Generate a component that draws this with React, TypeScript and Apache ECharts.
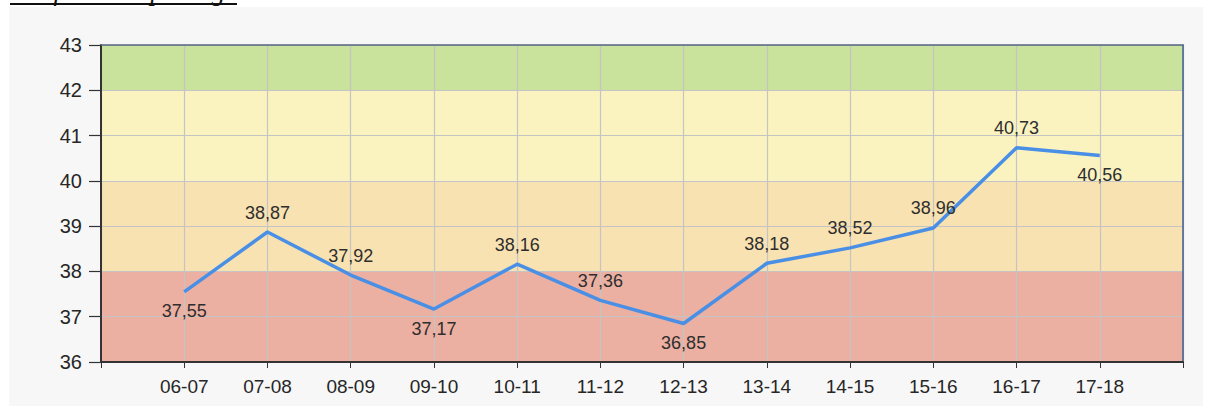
import React, { useEffect, useRef } from "react";
import * as echarts from "echarts";

const categories = ["06-07", "07-08", "08-09", "09-10", "10-11", "11-12", "12-13", "13-14", "14-15", "15-16", "16-17", "17-18"];
const values = [37.55, 38.87, 37.92, 37.17, 38.16, 37.36, 36.85, 38.18, 38.52, 38.96, 40.73, 40.56];
const labelSides = ["bottom", "top", "top", "bottom", "top", "top", "bottom", "top", "top", "top", "top", "bottom"];
const bandLimits = [36, 38, 40, 42, 43];
const bandColors = ["#ebb0a1", "#f9e2b1", "#faf3c0", "#c9e29c"];
const yMin = 36;
const yMax = 43;
const titleText = "Grafiek toetspeiling";

export default function App() {
  const ref = useRef<HTMLDivElement>(null);
  useEffect(() => {
    if (!ref.current) return;
    const chart = echarts.init(ref.current, null, { renderer: "svg" });
    const fmt = (v: number) => v.toFixed(2).replace(".", ",");
    const bands = bandColors.map((c, i) => [
      { yAxis: bandLimits[i], xAxis: 0, itemStyle: { color: c } },
      { yAxis: bandLimits[i + 1], xAxis: categories.length + 1 },
    ]);
    chart.setOption({
      animation: false,
      backgroundColor: "#ffffff",
      textStyle: { fontFamily: "'Liberation Sans', Arial, sans-serif" },
      graphic: [
        { type: "rect", z: -10, shape: { x: 9, y: 7, width: 1194, height: 399 }, style: { fill: "#f7f7f7" } },
        {
          type: "text",
          x: 10,
          y: -23,
          style: {
            text: titleText,
            fontSize: 27,
            fontStyle: "italic",
            fontFamily: "'Liberation Serif', serif",
            fill: "#111",
          },
        },
        { type: "rect", shape: { x: 10, y: 3, width: 227, height: 2 }, style: { fill: "#111" } },
      ],
      grid: { left: 101, top: 45, width: 1082, height: 317, containLabel: false },
      xAxis: [
        {
          type: "value",
          min: 0,
          max: categories.length + 1,
          interval: 1,
          z: 3,
          axisLine: { show: true, onZero: false, lineStyle: { color: "#333", width: 2 } },
          axisTick: { show: true, length: 6, lineStyle: { color: "#333" } },
          axisLabel: {
            fontSize: 19,
            color: "#262626",
            margin: 15,
            formatter: (v: number) => (v >= 1 && v <= categories.length ? categories[v - 1] : ""),
          },
          splitLine: { show: true, lineStyle: { color: "#c4c4c4", width: 1.2 } },
        },
        {
          type: "value",
          position: "top",
          min: 0,
          max: categories.length + 1,
          z: 3,
          axisLine: { show: true, onZero: false, lineStyle: { color: "#56677e", width: 1.5 } },
          axisTick: { show: false },
          axisLabel: { show: false },
          splitLine: { show: false },
        },
      ],
      yAxis: [
        {
          type: "value",
          min: yMin,
          max: yMax,
          interval: 1,
          z: 3,
          axisLine: { show: true, onZero: false, lineStyle: { color: "#333", width: 2 } },
          axisTick: { show: true, length: 12, lineStyle: { color: "#333", width: 1.2 } },
          axisLabel: { fontSize: 20, color: "#262626", margin: 19 },
          splitLine: { show: true, lineStyle: { color: "#c4c4c4", width: 1.2 } },
        },
        {
          type: "value",
          position: "right",
          min: yMin,
          max: yMax,
          z: 3,
          axisLine: { show: true, onZero: false, lineStyle: { color: "#3f5f92", width: 1.5 } },
          axisTick: { show: false },
          axisLabel: { show: false },
          splitLine: { show: false },
        },
      ],
      series: [
        {
          type: "line",
          z: 1,
          data: [],
          silent: true,
          markArea: { silent: true, data: bands },
        },
        {
          type: "line",
          z: 5,
          symbol: "circle",
          symbolSize: 1,
          showSymbol: true,
          itemStyle: { color: "rgba(0,0,0,0)" },
          lineStyle: { color: "#4a8fe6", width: 3.5 },
          data: values.map((v, i) => ({
            value: [i + 1, v],
            label: { show: true, position: labelSides[i], distance: 10 },
          })),
          label: {
            show: true,
            fontSize: 18,
            color: "#2e2e2e",
            formatter: (p: any) => fmt(p.value[1]),
          },
        },
      ],
    });
    return () => chart.dispose();
  }, []);
  return <div ref={ref} style={{ position: "absolute", left: 0, top: 0, width: 1209, height: 406 }} />;
}
